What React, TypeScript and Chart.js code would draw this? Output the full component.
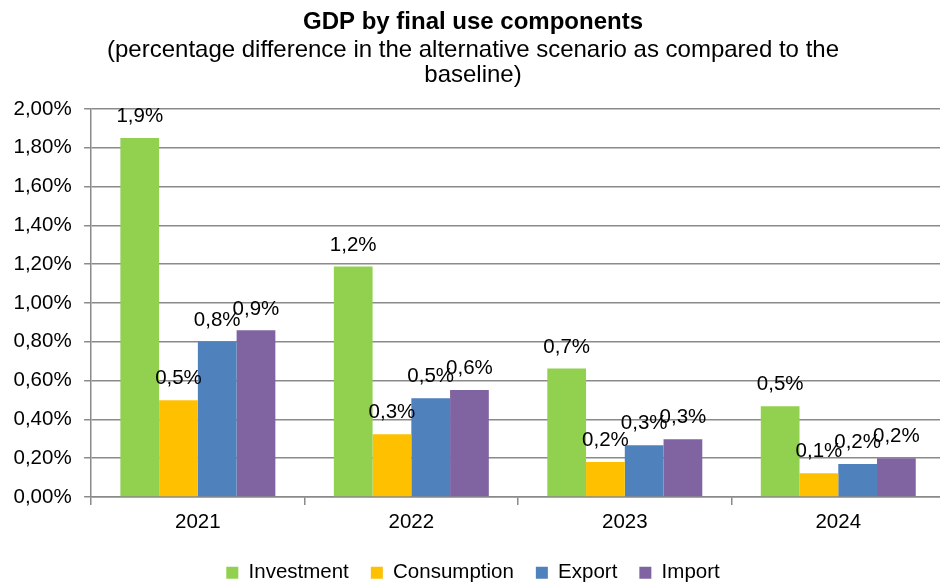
import React, { useEffect, useRef } from "react";
import { Chart, registerables } from "chart.js";

Chart.register(...registerables);

const categories = ["2021", "2022", "2023", "2024"];
const investment = [1.851, 1.188, 0.663, 0.468];
const consumption = [0.499, 0.324, 0.18, 0.123];
const exportVals = [0.802, 0.509, 0.267, 0.17];
const importVals = [0.859, 0.551, 0.298, 0.2];
const seriesNames = ["Investment", "Consumption", "Export", "Import"];
const seriesColors = ["#92D050", "#FFC000", "#4F81BD", "#8064A2"];
const titleText = "GDP by final use components";
const subtitleLines = [
  "(percentage difference in the alternative scenario as compared to the",
  "baseline)",
];

const FONT = "'Liberation Sans', Arial, sans-serif";
const FS = 20.5;

const fmtTick = (v: number) => v.toFixed(2).replace(".", ",") + "%";
const fmtLabel = (v: number) => v.toFixed(1).replace(".", ",") + "%";

const dataLabels = {
  id: "dataLabels",
  afterDatasetsDraw(chart: any) {
    const ctx = chart.ctx;
    ctx.save();
    ctx.font = `${FS}px ${FONT}`;
    ctx.fillStyle = "#000";
    ctx.textAlign = "center";
    ctx.textBaseline = "middle";
    chart.data.datasets.forEach((ds: any, di: number) => {
      const meta = chart.getDatasetMeta(di);
      meta.data.forEach((bar: any, i: number) => {
        ctx.fillText(fmtLabel(ds.data[i]), bar.x, bar.y - 21.5);
      });
    });
    ctx.restore();
  },
};

export default function App() {
  const ref = useRef<HTMLCanvasElement>(null);
  useEffect(() => {
    if (!ref.current) return;
    const all = [investment, consumption, exportVals, importVals];
    const chart = new Chart(ref.current, {
      type: "bar",
      data: {
        labels: categories,
        datasets: all.map((d, i) => ({
          label: seriesNames[i],
          data: d,
          backgroundColor: seriesColors[i],
          borderWidth: 0,
          barPercentage: 1,
          categoryPercentage: 0.726,
        })),
      },
      options: {
        animation: false,
        responsive: true,
        maintainAspectRatio: false,
        layout: { padding: { left: 1, right: 1, top: 0, bottom: 0 } },
        plugins: {
          title: {
            display: true,
            text: titleText,
            color: "#000",
            font: { family: FONT, size: 24, weight: "bold", lineHeight: 1.2 },
            padding: { top: 7.6, bottom: 0 },
          },
          subtitle: {
            display: true,
            text: subtitleLines,
            color: "#000",
            font: { family: FONT, size: 24, lineHeight: 25 / 24 },
            padding: { top: 1.1, bottom: 21.5 },
          },
          legend: {
            position: "bottom",
            labels: {
              boxWidth: 12,
              boxHeight: 12,
              padding: 22,
              color: "#000",
              font: { family: FONT, size: FS },
            },
          },
          tooltip: { enabled: false },
        },
        scales: {
          x: {
            offset: true,
            grid: {
              offset: true,
              drawOnChartArea: false,
              drawTicks: true,
              tickLength: 8,
              color: "#8a8a8a",
              lineWidth: 1.5,
            },
            border: { display: true, color: "#8a8a8a", width: 1.5 },
            ticks: {
              color: "#000",
              padding: 7.5,
              font: { family: FONT, size: FS, lineHeight: 1 },
            },
          },
          y: {
            min: 0,
            max: 2,
            ticks: {
              stepSize: 0.2,
              color: "#000",
              padding: 12.5,
              font: { family: FONT, size: FS },
              callback: (v: any) => fmtTick(Number(v)),
            },
            grid: {
              color: "#8a8a8a",
              lineWidth: 1.5,
              tickLength: 7,
            },
            border: { display: true, color: "#8a8a8a", width: 1.5 },
          },
        },
      },
      plugins: [dataLabels],
    });
    return () => chart.destroy();
  }, []);

  return (
    <div
      style={{
        position: "fixed",
        left: 0,
        top: 0,
        width: 940,
        height: 582,
        overflow: "hidden",
        background: "#fff",
      }}
    >
      <div style={{ position: "relative", width: 946, height: 593 }}>
        <canvas ref={ref} />
      </div>
    </div>
  );
}
